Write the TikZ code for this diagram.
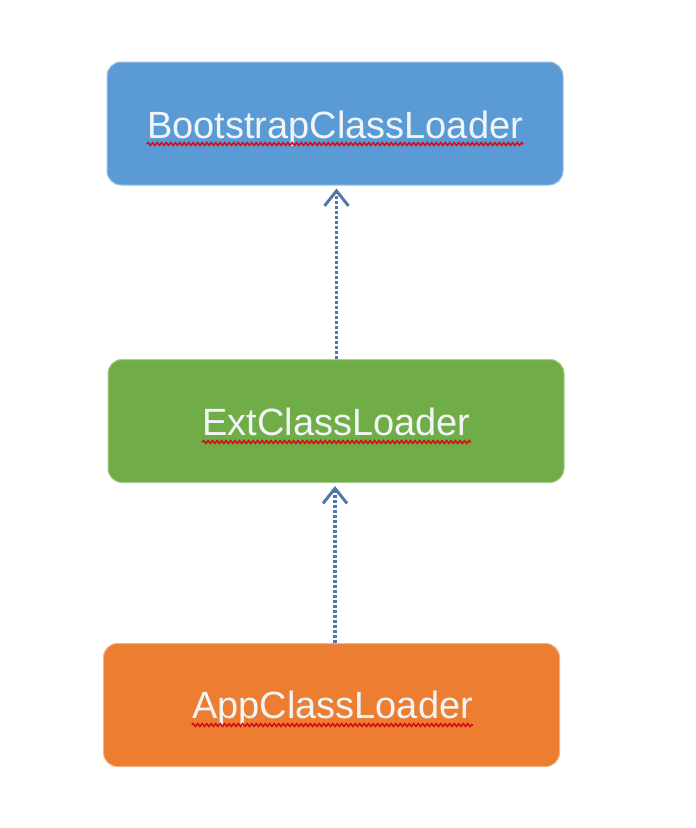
\documentclass[tikz,border=0pt]{standalone}
\usepackage{fontspec}
\setmainfont{Liberation Sans}
\usetikzlibrary{arrows.meta,decorations.pathmorphing}
\definecolor{bootblue}{HTML}{5B9BD5}
\definecolor{extgreen}{HTML}{70AD47}
\definecolor{apporange}{HTML}{ED7D31}
\definecolor{arrowblue}{HTML}{4E7AAA}
\definecolor{labelwhite}{HTML}{F2F5F8}
\definecolor{spellred}{HTML}{D0101B}
\tikzset{
  box/.style={rectangle, rounded corners=14pt, minimum width=456pt, minimum height=123pt, inner sep=0pt, line width=1pt},
  lbl/.style={anchor=base, inner sep=0pt, text=labelwhite, font=\fontsize{38}{44}\selectfont},
  squiggle/.style={draw=spellred, line width=1.6pt, decorate, decoration={snake, segment length=4.5pt, amplitude=1.4pt}},
  inherit/.style={draw=arrowblue, line width=3.2pt, dash pattern=on 2.6pt off 2.4pt,
    -{Straight Barb[length=15pt, width=24pt, line width=3pt]}, shorten >=3pt}
}
\begin{document}
\begin{tikzpicture}[x=1pt,y=-1pt]
\useasboundingbox (0,0) rectangle (696,828);
\fill[white] (0,0) rectangle (696,828);
% boxes
\node[box, fill=bootblue, draw=bootblue!60!white] (boot) at (335,123.5) {};
\node[box, fill=extgreen, draw=extgreen!60!white] (ext) at (336,421) {};
\node[box, fill=apporange, draw=apporange!60!white] (app) at (331.5,705) {};
% labels
\node[lbl] (bootlbl) at (335,138) {BootstrapClassLoader};
\node[lbl] (extlbl) at (336.5,435) {ExtClassLoader};
\node[lbl] (applbl) at (332.5,718) {AppClassLoader};
% spell-check underlines
\draw[squiggle] ([yshift=-6pt]bootlbl.base west) -- ([yshift=-6pt]bootlbl.base east);
\draw[squiggle] ([yshift=-7pt]extlbl.base west) -- ([yshift=-7pt]extlbl.base east);
\draw[squiggle] ([yshift=-7pt]applbl.base west) -- ([yshift=-7pt]applbl.base east);
% arrows
\coordinate (a1s) at ([xshift=0.5pt]ext.north);
\coordinate (a2s) at ([xshift=3.5pt]app.north);
\draw[inherit] (a1s) -- (a1s |- boot.south);
\draw[inherit] (a2s) -- (a2s |- ext.south);
\end{tikzpicture}
\end{document}
